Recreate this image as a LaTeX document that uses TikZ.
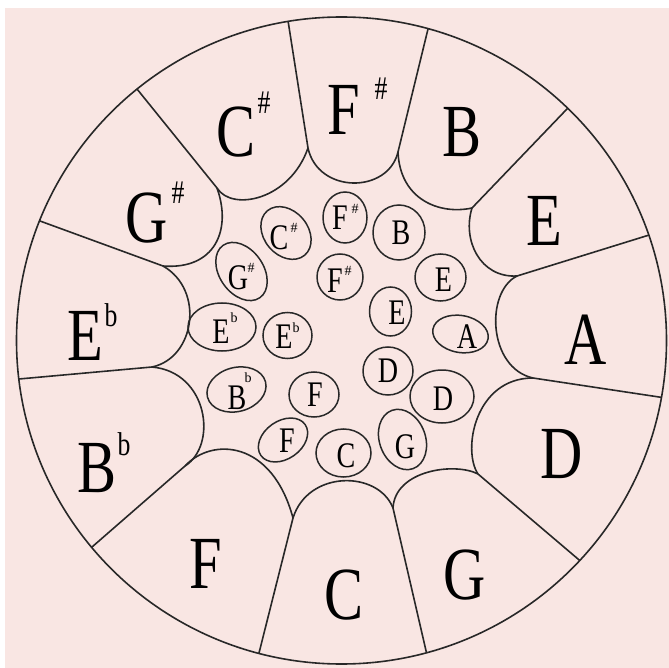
\documentclass[tikz,border=0pt]{standalone}
\usepackage{fontspec}
\setmainfont{Liberation Serif}
\usepackage{graphicx}
\usetikzlibrary{calc}
\definecolor{bgpink}{RGB}{249,230,227}
\definecolor{ink}{RGB}{40,40,40}
\newcommand\sq[1]{\scalebox{0.78}[1]{#1}}
\begin{document}
\begin{tikzpicture}[x=1pt,y=-1pt,
  line/.style={draw=ink, line width=1.6pt},
  oval/.style={draw=ink, line width=1.5pt},
  big/.style={inner sep=0pt, font=\fontsize{75}{75}\selectfont},
  bigsup/.style={inner sep=0pt, font=\fontsize{33}{33}\selectfont},
  small/.style={inner sep=0pt, font=\fontsize{36}{36}\selectfont},
  smallsup/.style={inner sep=0pt, font=\fontsize{14}{14}\selectfont}]
\useasboundingbox (0,0) rectangle (669,668);
\fill[white] (0,0) rectangle (669,668);
\fill[bgpink] (5,8) rectangle (669,668);
% junctions and outer points
\coordinate (J1) at (217,188);
\coordinate (J2) at (308,148);
\coordinate (J3) at (398,152);
\coordinate (J4) at (472,208);
\coordinate (J5) at (517,276);
\coordinate (J6) at (533,378);
\coordinate (J7) at (478,474);
\coordinate (J8) at (393,508);
\coordinate (J9) at (293,518);
\coordinate (J10) at (185,466);
\coordinate (J11) at (152,367);
\coordinate (J12) at (163,266);
\coordinate (O1) at (137,89);
\coordinate (O2) at (289,27);
\coordinate (O3) at (428,29);
\coordinate (O4) at (566,110);
\coordinate (O5) at (646,236);
\coordinate (O6) at (659,397);
\coordinate (O7) at (578,559);
\coordinate (O8) at (427,655);
\coordinate (O9) at (259,653);
\coordinate (O10) at (92,547);
\coordinate (O11) at (19,379);
\coordinate (O12) at (40,221);
\begin{scope}
\clip (341.5,340.5) ellipse [x radius=325, y radius=323.5];
\foreach \i in {1,...,12} \draw[line] (J\i) -- ($(J\i)!1.2!(O\i)$);
\end{scope}
\draw[line] (341.5,340.5) ellipse [x radius=325, y radius=323.5];
% pad inner edges
\draw[line] (J1) .. controls (232,212) and (290,200) .. (J2);
\draw[line] (J2) .. controls (318,194) and (388,194) .. (J3);
\draw[line] (J3) .. controls (400,200) and (440,215) .. (J4);
\draw[line] (J4) .. controls (462,240) and (480,278) .. (J5);
\draw[line] (J5) .. controls (485,292) and (488,368) .. (J6);
\draw[line] (J6) .. controls (475,378) and (462,450) .. (J7);
\draw[line] (J7) .. controls (455,462) and (395,470) .. (J8);
\draw[line] (J8) .. controls (378,470) and (308,470) .. (J9);
\draw[line] (J9) .. controls (272,440) and (212,437) .. (J10);
\draw[line] (J10) .. controls (218,445) and (208,372) .. (J11);
\draw[line] (J11) .. controls (195,358) and (205,290) .. (J12);
\draw[line] (J12) .. controls (215,270) and (232,230) .. (J1);
% outer labels
\node[big] (oCs) at (236,132) {\sq{C}};
\node[bigsup] (oCsx) at (264,103) {\sq{\#}};
\node[big] (oFs) at (344,110) {\sq{F}};
\node[bigsup] (oFsx) at (381,89) {\sq{\#}};
\node[big] (oB) at (462,132) {\sq{B}};
\node[big] (oGs) at (147,218) {\sq{G}};
\node[bigsup] (oGsx) at (178,193) {\sq{\#}};
\node[big] (oE) at (544,221) {\sq{E}};
\node[big] (oEb) at (85,336) {\sq{E}};
\node[bigsup] (oEbx) at (111,315) {\sq{b}};
\node[big] (oA) at (586,340) {\sq{A}};
\node[big] (oBb) at (97,468) {\sq{B}};
\node[bigsup] (oBbx) at (124,444) {\sq{b}};
\node[big] (oD) at (562,454) {\sq{D}};
\node[big] (oF) at (206,564) {\sq{F}};
\node[big] (oC) at (344,595) {\sq{C}};
\node[big] (oG) at (465,575) {\sq{G}};
% inner ovals
\draw[oval, rotate around={-50:(286,233)}] (286,233) ellipse [x radius=29, y radius=22];
\draw[oval] (345,217.5) ellipse [x radius=22, y radius=25.5];
\draw[oval] (399,232.5) ellipse [x radius=26, y radius=27.5];
\draw[oval] (340,277) ellipse [x radius=23, y radius=23];
\draw[oval] (440.5,277.5) ellipse [x radius=25.5, y radius=23.5];
\draw[oval, rotate around={-55:(241.5,271.5)}] (241.5,271.5) ellipse [x radius=32, y radius=22];
\draw[oval] (390.5,311.5) ellipse [x radius=21, y radius=24.5];
\draw[oval] (222,327) ellipse [x radius=34, y radius=24];
\draw[oval] (287.5,335.5) ellipse [x radius=24.5, y radius=23];
\draw[oval, rotate around={-10:(460.5,334)}] (460.5,334) ellipse [x radius=28, y radius=18.5];
\draw[oval] (388,371) ellipse [x radius=25, y radius=24];
\draw[oval] (442,396.5) ellipse [x radius=32, y radius=26.5];
\draw[oval, rotate around={15:(236.5,389.5)}] (236.5,389.5) ellipse [x radius=30, y radius=22];
\draw[oval] (314,394.5) ellipse [x radius=25, y radius=22.5];
\draw[oval, rotate around={35:(283,440)}] (283,440) ellipse [x radius=27, y radius=19];
\draw[oval] (343.5,453) ellipse [x radius=27.5, y radius=24];
\draw[oval, rotate around={20:(402.5,439.5)}] (402.5,439.5) ellipse [x radius=23, y radius=31];
% inner labels
\node[small] (iCs) at (279,238) {\sq{C}};
\node[smallsup] (iCsx) at (294,228) {\#};
\node[small] (iFs1) at (340,218) {\sq{F}};
\node[smallsup] (iFs1x) at (355,209) {\#};
\node[small] (iB) at (401,233) {\sq{B}};
\node[small] (iFs2) at (335,281) {\sq{F}};
\node[smallsup] (iFs2x) at (348,271) {\#};
\node[small] (iE1) at (443.5,280) {\sq{E}};
\node[small] (iGs) at (238,278) {\sq{G}};
\node[smallsup] (iGsx) at (251,268) {\#};
\node[small] (iE2) at (397,313) {\sq{E}};
\node[small] (iEb1) at (221,332) {\sq{E}};
\node[smallsup] (iEb1x) at (234,318) {b};
\node[small] (iEb2) at (284,337) {\sq{E}};
\node[smallsup] (iEb2x) at (296,328) {b};
\node[small] (iA) at (467,337) {\sq{A}};
\node[small] (iD1) at (388,371) {\sq{D}};
\node[small] (iD2) at (443,399) {\sq{D}};
\node[small] (iBb) at (237,398) {\sq{B}};
\node[smallsup] (iBbx) at (248,378) {b};
\node[small] (iF1) at (315,395) {\sq{F}};
\node[small] (iF2) at (287,441) {\sq{F}};
\node[small] (iC) at (346,456) {\sq{C}};
\node[small] (iG) at (405,447) {\sq{G}};
\end{tikzpicture}
\end{document}
